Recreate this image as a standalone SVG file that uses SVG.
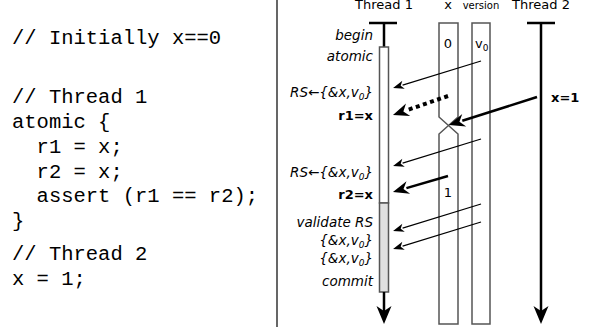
<svg xmlns="http://www.w3.org/2000/svg" width="611" height="327" viewBox="0 0 611 327">
<style>
.code{font-family:"Liberation Mono","DejaVu Sans Mono",monospace;font-size:20.5px;fill:#000;white-space:pre}
.hdr{font-family:"DejaVu Sans",sans-serif;font-size:13px;fill:#000}
.lbl{font-family:"DejaVu Sans",sans-serif;font-size:13.5px;font-style:italic;fill:#000;text-anchor:end}
.bold{font-family:"DejaVu Sans",sans-serif;font-size:13px;font-weight:bold;fill:#000}
.sub{font-size:9px}
.col{fill:#fff;stroke:#555;stroke-width:1.5}
.life{stroke:#000;stroke-width:2.5;fill:none}
.thin{stroke:#000;stroke-width:1.2;fill:none}
.thick{stroke:#000;stroke-width:2.5;fill:none}
.dot{stroke:#000;stroke-width:4;fill:none;stroke-dasharray:4 3.5}
</style>
<defs>
<marker id="ahs" markerUnits="userSpaceOnUse" markerWidth="14" markerHeight="10" viewBox="-4 -5 14 10" refX="0" refY="0" orient="auto"><path d="M10,0 L-1,-4.2 L2,0 L-1,4.2 Z" fill="#000"/></marker>
<marker id="ahl" markerUnits="userSpaceOnUse" markerWidth="22" markerHeight="14" viewBox="-6 -7 22 14" refX="0" refY="0" orient="auto"><path d="M14,0 L-2,-6.5 L3,0 L-2,6.5 Z" fill="#000"/></marker>
</defs>
<g id="code">
<text class="code" x="12" y="44">// Initially x==0</text>
<text class="code" x="12" y="103">// Thread 1</text>
<text class="code" x="12" y="128">atomic {</text>
<text class="code" x="12" y="153">  r1 = x;</text>
<text class="code" x="12" y="178">  r2 = x;</text>
<text class="code" x="12" y="202">  assert (r1 == r2);</text>
<text class="code" x="12" y="227">}</text>
<text class="code" x="12" y="260">// Thread 2</text>
<text class="code" x="12" y="285">x = 1;</text>
</g>
<line id="divider" x1="277" y1="0" x2="277" y2="327" stroke="#000" stroke-width="1.2"/>
<g id="thread1">
<text class="hdr" x="384" y="9" text-anchor="middle">Thread 1</text>
<line class="life" x1="369" y1="23" x2="397" y2="23"/>
<line class="life" x1="384" y1="23" x2="384" y2="47"/>
<rect x="379.5" y="47" width="9" height="156" fill="#fff" stroke="#555" stroke-width="1.5"/>
<rect x="379.5" y="203" width="9" height="89" fill="#e0e0e0" stroke="#555" stroke-width="1.5"/>
<line class="life" x1="384" y1="292" x2="384" y2="314"/>
<path d="M384,324 L376.5,306 L384,311 L391.5,306 Z" fill="#000"/>
</g>
<g id="labels">
<text class="lbl" x="373" y="40">begin</text>
<text class="lbl" x="373" y="61">atomic</text>
<text class="lbl" x="373" y="97">RS←{&amp;x,v<tspan class="sub" dy="3">0</tspan><tspan dy="-3">}</tspan></text>
<text class="bold" x="373" y="120" text-anchor="end">r1=x</text>
<text class="lbl" x="373" y="177">RS←{&amp;x,v<tspan class="sub" dy="3">0</tspan><tspan dy="-3">}</tspan></text>
<text class="bold" x="373" y="199" text-anchor="end">r2=x</text>
<text class="lbl" x="373" y="227">validate RS</text>
<text class="lbl" x="373" y="245">{&amp;x,v<tspan class="sub" dy="3">0</tspan><tspan dy="-3">}</tspan></text>
<text class="lbl" x="373" y="263">{&amp;x,v<tspan class="sub" dy="3">0</tspan><tspan dy="-3">}</tspan></text>
<text class="lbl" x="373" y="286">commit</text>
</g>
<g id="xcol">
<text class="hdr" x="448" y="9" text-anchor="middle">x</text>
<path class="col" d="M439,117 V23 H458 V117 L439,134 V324 H458 V134 Z"/>
<text class="hdr" x="448" y="48" text-anchor="middle">0</text>
<text class="hdr" x="448" y="197" text-anchor="middle">1</text>
</g>
<g id="versioncol">
<text class="hdr" x="481" y="9" text-anchor="middle" style="font-size:10px">version</text>
<rect class="col" x="472" y="23" width="18" height="301"/>
<text class="hdr" x="475" y="48">v<tspan class="sub" dy="3">0</tspan></text>
</g>
<g id="thread2">
<text class="hdr" x="541" y="9" text-anchor="middle">Thread 2</text>
<line class="life" x1="527" y1="23" x2="555" y2="23"/>
<line class="life" x1="541" y1="23" x2="541" y2="314"/>
<path d="M541,324 L533.5,306 L541,311 L548.5,306 Z" fill="#000"/>
<text class="bold" x="551" y="102">x=1</text>
</g>
<g id="connectors">
<line class="thin" x1="481" y1="61" x2="402.6" y2="85.1" marker-end="url(#ahs)"/>
<line class="thin" x1="481" y1="139" x2="402.6" y2="163.1" marker-end="url(#ahs)"/>
<line class="thin" x1="481" y1="204" x2="402.6" y2="228.1" marker-end="url(#ahs)"/>
<line class="thin" x1="481" y1="222" x2="402.6" y2="246.1" marker-end="url(#ahs)"/>
<line class="dot" x1="448" y1="96" x2="406.2" y2="110.4" marker-end="url(#ahl)"/>
<line class="thick" x1="537" y1="97" x2="462.3" y2="120.8" marker-end="url(#ahl)"/>
<line class="thick" x1="448" y1="176" x2="406.4" y2="188.1" marker-end="url(#ahl)"/>
</g>
</svg>
